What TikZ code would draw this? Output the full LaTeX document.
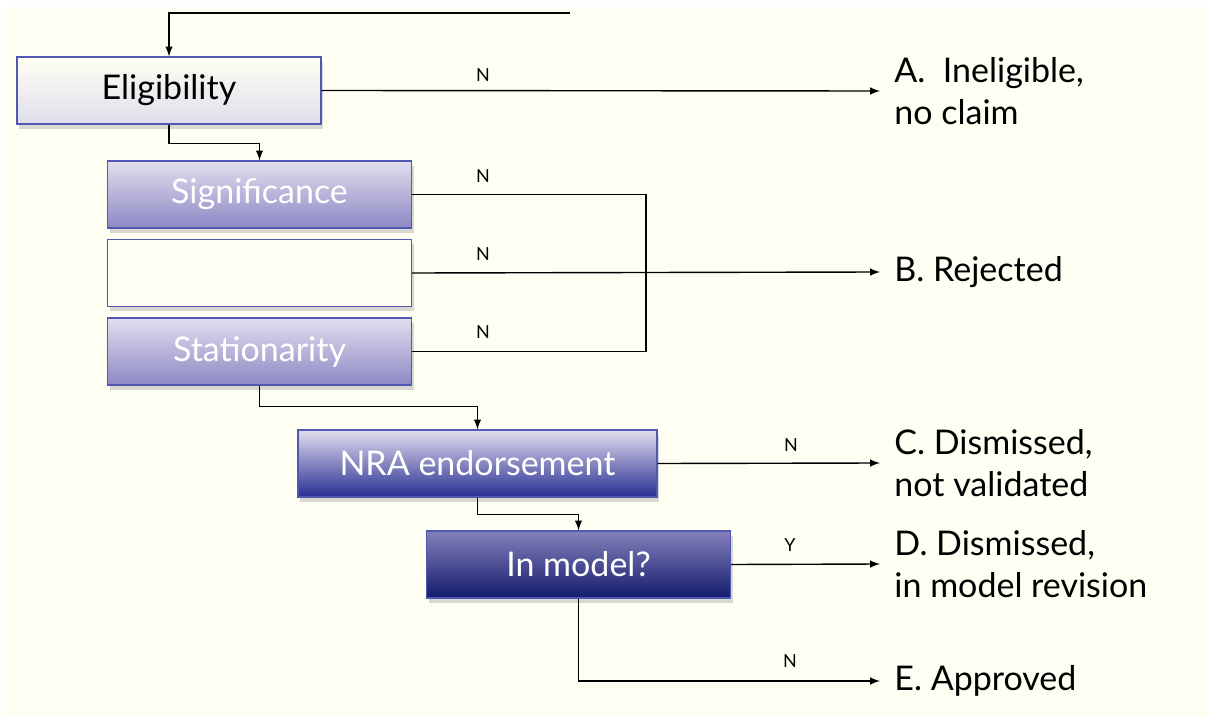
\documentclass[tikz,border=0pt]{standalone}
\usepackage{fontspec}
\setmainfont{Lato}
\usetikzlibrary{positioning,shadows,arrows}

\definecolor{ivory}{HTML}{FFFEF3}
\definecolor{edgeblue}{HTML}{5058B4}
\definecolor{eligbot}{HTML}{E0DEEC}
\definecolor{lavtop}{HTML}{E2DEEE}
\definecolor{lavbot}{HTML}{8C88C4}
\definecolor{nramid}{HTML}{7874B6}
\definecolor{nrabot}{HTML}{282E92}
\definecolor{inmtop}{HTML}{8480BC}
\definecolor{inmbot}{HTML}{141C6C}

\begin{document}
\begin{tikzpicture}[x=0.5pt,y=-0.5pt,
  font=\fontsize{17}{21}\selectfont,
  >=latex,
  test/.style={draw=edgeblue,
               line width=0.6pt,
               minimum width=152pt,
               minimum height=33.5pt,
               inner sep=0pt,
               drop shadow={shadow xshift=1pt,shadow yshift=-2.5pt,opacity=0.3}},
  outcome/.style={anchor=west,
                  align=left,
                  inner xsep=7pt},
  lbl/.style={font=\fontsize{9}{10}\selectfont}]

 % Canvas
 \useasboundingbox (0,0) rectangle (1208,716);
 \fill[ivory] (6,7) rectangle (1208,716);

 % Add the tests
 \node[test,
       top color=ivory,
       bottom color=eligbot] (elig) at (169,90.5) {Eligibility};
 \node[test,
       top color=lavtop,
       bottom color=lavbot,
       text=white] (sig) at (259.5,194.5) {Significance};
 \node[test,
       fill=ivory] (blank) at (259.5,273) {};
 \node[test,
       top color=lavtop,
       bottom color=lavbot,
       text=white] (stat) at (259.5,351.5) {Stationarity};
 \node[test,
       minimum width=179.5pt,
       top color=lavtop,
       middle color=nramid,
       bottom color=nrabot,
       text=white] (nra) at (477.5,463.5) {NRA endorsement};
 \node[test,
       top color=inmtop,
       bottom color=inmbot,
       text=white] (inm) at (578.5,564.5) {In model?};

 % Add the outcomes
 \node[outcome] (A) at (880,91)  {A.\ \ Ineligible,\\no claim};
 \node[outcome] (B) at (880,272) {B. Rejected};
 \node[outcome] (C) at (880,463) {C. Dismissed,\\not validated};
 \node[outcome] (D) at (880,564) {D. Dismissed,\\in model revision};
 \node[outcome] (E) at (880,681) {E. Approved};

 % Branch labels
 \node[lbl] (nA) at (483,75)  {N};
 \node[lbl] (n1) at (483,176) {N};
 \node[lbl] (n2) at (483,254) {N};
 \node[lbl] (n3) at (483,332) {N};
 \node[lbl] (nC) at (791,445) {N};
 \node[lbl] (yD) at (790,545) {Y};
 \node[lbl] (nE) at (790,661) {N};

 \coordinate (loop) at (570,13);
 \coordinate (join) at (646,272);

 % Connect the tests
 \draw[line width=0.7pt]
     (loop) edge[->, to path={-| (\tikztotarget)}] (elig.north)
     (elig.south) edge[->, to path={-- ++(0,19) -| (\tikztotarget)}] (sig.north)
     (stat.south) edge[->, to path={-- ++(0,21) -| (\tikztotarget)}] (nra.north)
     (nra.south)  edge[->, to path={-- ++(0,17) -| (\tikztotarget)}] (inm.north)
     (elig.east)  edge[->] (A.west)
     (blank.east) edge[->] (B.west)
     (nra.east)   edge[->] (C.west)
     (inm.east)   edge[->] (D.west)
     (inm.south)  edge[->, to path={|- (\tikztotarget)}] (E.west)
     (sig.east)   edge[to path={-| (\tikztotarget)}] (join)
     (stat.east)  edge[to path={-| (\tikztotarget)}] (join);
\end{tikzpicture}
\end{document}
